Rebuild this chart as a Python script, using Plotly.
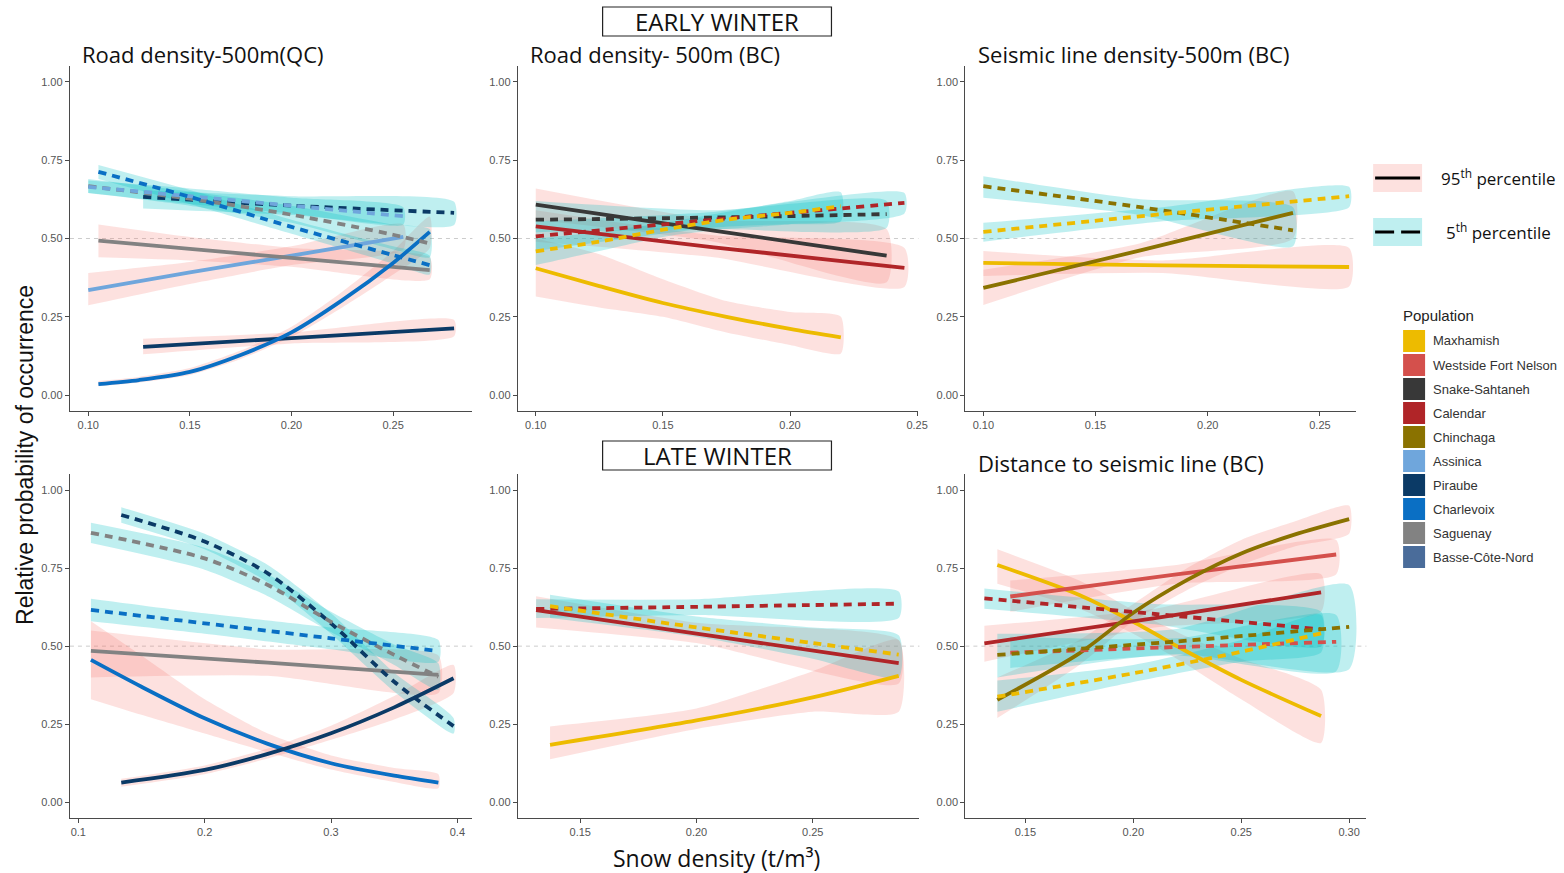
import plotly.graph_objects as go

# ---------------- data ----------------
POPULATIONS = ["Maxhamish", "Westside Fort Nelson", "Snake-Sahtaneh", "Calendar", "Chinchaga",
               "Assinica", "Piraube", "Charlevoix", "Saguenay", "Basse-Côte-Nord"]
POP_COLORS = ["#EDBB00", "#D4504C", "#383838", "#B02528", "#8A7200",
              "#6FA6DC", "#0B3A66", "#0A6FC4", "#828282", "#4A6C9A"]

PANEL_TITLES = ["Road density-500m(QC)", "Road density- 500m (BC)", "Seismic line density-500m (BC)",
                "", "", "Distance to seismic line (BC)"]
SEASON_LABELS = ["EARLY WINTER", "LATE WINTER"]
X_TITLE = "Snow density (t/m³)"
Y_TITLE = "Relative probability of occurrence"
PERCENTILE_LABELS = ["95<sup>th</sup> percentile", "5<sup>th</sup> percentile"]

Y_TICKS = [0.0, 0.25, 0.5, 0.75, 1.0]
Y_TICK_TEXT = ["0.00", "0.25", "0.50", "0.75", "1.00"]
X_TICKS = [
    [0.10, 0.15, 0.20, 0.25],
    [0.10, 0.15, 0.20, 0.25],
    [0.10, 0.15, 0.20, 0.25],
    [0.1, 0.2, 0.3, 0.4],
    [0.15, 0.20, 0.25],
    [0.15, 0.20, 0.25, 0.30],
]
X_TICK_TEXT = [
    ["0.10", "0.15", "0.20", "0.25"],
    ["0.10", "0.15", "0.20", "0.25"],
    ["0.10", "0.15", "0.20", "0.25"],
    ["0.1", "0.2", "0.3", "0.4"],
    ["0.15", "0.20", "0.25"],
    ["0.15", "0.20", "0.25", "0.30"],
]
REF_LINE = 0.5

# curves: (population, percentile, x, y, lower, upper)
P1_CURVES = [
    ("Assinica", 95, [0.10, 0.15, 0.20, 0.255], [0.335, 0.392, 0.445, 0.505],
     [0.287, 0.355, 0.415, 0.465], [0.390, 0.425, 0.475, 0.545]),
    ("Saguenay", 95, [0.105, 0.15, 0.20, 0.268], [0.493, 0.467, 0.438, 0.399],
     [0.44, 0.43, 0.41, 0.37], [0.545, 0.505, 0.47, 0.44]),
    ("Piraube", 95, [0.127, 0.20, 0.28], [0.154, 0.182, 0.213],
     [0.13, 0.165, 0.188], [0.18, 0.20, 0.24]),
    ("Charlevoix", 95, [0.105, 0.125, 0.15, 0.175, 0.20, 0.225, 0.25, 0.268],
     [0.035, 0.048, 0.074, 0.128, 0.20, 0.303, 0.422, 0.521],
     [0.028, 0.040, 0.064, 0.115, 0.185, 0.28, 0.385, 0.47],
     [0.045, 0.058, 0.086, 0.142, 0.218, 0.33, 0.46, 0.57]),
    ("Piraube", 5, [0.127, 0.20, 0.28], [0.633, 0.605, 0.582],
     [0.596, 0.575, 0.543], [0.654, 0.635, 0.617]),
    ("Saguenay", 5, [0.10, 0.15, 0.20, 0.25, 0.268], [0.667, 0.627, 0.576, 0.512, 0.484],
     [0.645, 0.605, 0.55, 0.465, 0.44], [0.69, 0.65, 0.605, 0.545, 0.53]),
    ("Assinica", 5, [0.10, 0.15, 0.20, 0.255], [0.665, 0.635, 0.605, 0.571],
     [0.645, 0.61, 0.58, 0.545], [0.685, 0.66, 0.63, 0.60]),
    ("Charlevoix", 5, [0.105, 0.15, 0.20, 0.25, 0.268], [0.713, 0.633, 0.537, 0.447, 0.415],
     [0.69, 0.61, 0.515, 0.42, 0.385], [0.735, 0.655, 0.56, 0.475, 0.445]),
]

P2_CURVES = [
    ("Maxhamish", 95, [0.10, 0.125, 0.15, 0.175, 0.20, 0.22], [0.405, 0.348, 0.294, 0.250, 0.211, 0.184],
     [0.315, 0.28, 0.25, 0.20, 0.16, 0.133], [0.50, 0.45, 0.37, 0.30, 0.265, 0.25]),
    ("Snake-Sahtaneh", 95, [0.10, 0.17, 0.238], [0.608, 0.525, 0.445],
     [0.56, 0.49, 0.36], [0.66, 0.56, 0.53]),
    ("Calendar", 95, [0.10, 0.17, 0.245], [0.539, 0.472, 0.406],
     [0.49, 0.44, 0.345], [0.59, 0.51, 0.47]),
    ("Snake-Sahtaneh", 5, [0.10, 0.17, 0.238], [0.560, 0.567, 0.578],
     [0.52, 0.53, 0.534], [0.62, 0.59, 0.62]),
    ("Calendar", 5, [0.10, 0.17, 0.245], [0.507, 0.56, 0.614],
     [0.46, 0.535, 0.58], [0.555, 0.585, 0.645]),
    ("Maxhamish", 5, [0.10, 0.125, 0.15, 0.175, 0.20, 0.22], [0.459, 0.49, 0.528, 0.56, 0.582, 0.603],
     [0.415, 0.46, 0.505, 0.53, 0.545, 0.555], [0.50, 0.52, 0.55, 0.585, 0.62, 0.648]),
]

P3_CURVES = [
    ("Maxhamish", 95, [0.10, 0.18, 0.263], [0.422, 0.414, 0.409],
     [0.38, 0.39, 0.347], [0.46, 0.43, 0.47]),
    ("Chinchaga", 95, [0.10, 0.17, 0.238], [0.342, 0.462, 0.582],
     [0.288, 0.44, 0.50], [0.40, 0.485, 0.651]),
    ("Chinchaga", 5, [0.10, 0.17, 0.238], [0.667, 0.60, 0.526],
     [0.63, 0.575, 0.475], [0.699, 0.625, 0.60]),
    ("Maxhamish", 5, [0.10, 0.18, 0.263], [0.521, 0.578, 0.635],
     [0.49, 0.555, 0.60], [0.55, 0.60, 0.665]),
]

P4_CURVES = [
    ("Saguenay", 95, [0.11, 0.25, 0.385], [0.485, 0.447, 0.408],
     [0.40, 0.405, 0.35], [0.55, 0.49, 0.47]),
    ("Charlevoix", 95, [0.11, 0.15, 0.20, 0.25, 0.30, 0.35, 0.385],
     [0.456, 0.37, 0.269, 0.187, 0.125, 0.085, 0.063],
     [0.33, 0.28, 0.22, 0.16, 0.105, 0.065, 0.045],
     [0.58, 0.47, 0.33, 0.22, 0.15, 0.11, 0.09]),
    ("Piraube", 95, [0.134, 0.20, 0.25, 0.30, 0.35, 0.397], [0.063, 0.1035, 0.155, 0.221, 0.304, 0.397],
     [0.05, 0.09, 0.14, 0.20, 0.265, 0.35], [0.075, 0.118, 0.172, 0.245, 0.34, 0.44]),
    ("Piraube", 5, [0.134, 0.20, 0.25, 0.30, 0.35, 0.397], [0.92, 0.835, 0.733, 0.573, 0.386, 0.244],
     [0.895, 0.81, 0.705, 0.54, 0.355, 0.22], [0.945, 0.86, 0.76, 0.605, 0.415, 0.27]),
    ("Saguenay", 5, [0.11, 0.20, 0.25, 0.30, 0.35, 0.385], [0.863, 0.781, 0.696, 0.578, 0.472, 0.402],
     [0.83, 0.745, 0.66, 0.545, 0.44, 0.36], [0.895, 0.815, 0.73, 0.61, 0.505, 0.445]),
    ("Charlevoix", 5, [0.11, 0.20, 0.30, 0.385], [0.616, 0.573, 0.525, 0.4845],
     [0.58, 0.54, 0.49, 0.45], [0.652, 0.605, 0.56, 0.52]),
]

P5_CURVES = [
    ("Maxhamish", 95, [0.137, 0.20, 0.25, 0.287], [0.184, 0.262, 0.336, 0.405],
     [0.138, 0.235, 0.29, 0.29], [0.243, 0.30, 0.42, 0.52]),
    ("Calendar", 95, [0.131, 0.20, 0.287], [0.615, 0.54, 0.446],
     [0.56, 0.51, 0.38], [0.66, 0.575, 0.52]),
    ("Calendar", 5, [0.131, 0.20, 0.287], [0.619, 0.626, 0.636],
     [0.59, 0.60, 0.59], [0.65, 0.65, 0.675]),
    ("Maxhamish", 5, [0.137, 0.20, 0.25, 0.287], [0.628, 0.56, 0.51, 0.473],
     [0.59, 0.53, 0.46, 0.40], [0.665, 0.595, 0.56, 0.535]),
]

P6_CURVES = [
    ("Maxhamish", 95, [0.137, 0.175, 0.20, 0.225, 0.25, 0.287], [0.76, 0.664, 0.578, 0.482, 0.392, 0.276],
     [0.70, 0.62, 0.54, 0.44, 0.33, 0.19], [0.81, 0.71, 0.615, 0.53, 0.46, 0.36]),
    ("Westside Fort Nelson", 95, [0.143, 0.22, 0.294], [0.659, 0.73, 0.7935],
     [0.61, 0.70, 0.73], [0.71, 0.76, 0.84]),
    ("Calendar", 95, [0.131, 0.21, 0.287], [0.509, 0.59, 0.672],
     [0.45, 0.56, 0.61], [0.565, 0.62, 0.73]),
    ("Chinchaga", 95, [0.137, 0.175, 0.20, 0.225, 0.25, 0.275, 0.30],
     [0.328, 0.477, 0.607, 0.712, 0.797, 0.858, 0.907],
     [0.27, 0.44, 0.58, 0.68, 0.76, 0.82, 0.86], [0.40, 0.52, 0.635, 0.75, 0.84, 0.90, 0.95]),
    ("Calendar", 5, [0.131, 0.21, 0.287], [0.653, 0.603, 0.554],
     [0.62, 0.57, 0.50], [0.685, 0.635, 0.61]),
    ("Westside Fort Nelson", 5, [0.143, 0.22, 0.294], [0.479, 0.497, 0.514],
     [0.43, 0.47, 0.42], [0.53, 0.525, 0.60]),
    ("Chinchaga", 5, [0.137, 0.22, 0.30], [0.472, 0.515, 0.562],
     [0.40, 0.475, 0.426], [0.54, 0.555, 0.696]),
    ("Maxhamish", 5, [0.137, 0.20, 0.25, 0.287], [0.338, 0.413, 0.482, 0.541],
     [0.29, 0.385, 0.45, 0.48], [0.39, 0.44, 0.52, 0.60]),
]

PANELS = [P1_CURVES, P2_CURVES, P3_CURVES, P4_CURVES, P5_CURVES, P6_CURVES]

# ---------------- layout geometry (style) ----------------
W, H = 1564, 873
WX = 1556  # effective horizontal extent observed in the rendered page
X_RANGES = [[0.091, 0.289], [0.093, 0.2505], [0.092, 0.266],
            [0.0934, 0.4119], [0.1232, 0.2959], [0.1222, 0.308]]
Y_RANGE = [-0.05, 1.05]
X_DOMAINS_PX = [(70, 472.7), (518.3, 919), (966, 1356.7),
                (70, 472.7), (518.3, 920), (966, 1367.3)]
Y_DOMAINS_PX = [(66.3, 410.7)] * 3 + [(474.4, 817.9)] * 3

RIBBON = {95: "rgba(248,118,109,0.22)", 5: "rgba(0,191,196,0.25)"}
DASH = {95: "solid", 5: "8px,6px"}
color_of = dict(zip(POPULATIONS, POP_COLORS))


def px(x):
    return x / WX


def py(y):
    return 1 - y / H


fig = go.Figure()

for i, curves in enumerate(PANELS):
    ax = "" if i == 0 else str(i + 1)
    xa, ya = "x" + ax, "y" + ax
    # ribbons first
    for pop, pct, xs, ys, lo, hi in curves:
        fig.add_trace(go.Scatter(
            x=list(xs) + list(xs)[::-1], y=list(hi) + list(lo)[::-1],
            fill="toself", fillcolor=RIBBON[pct], line=dict(width=0, shape="spline", smoothing=0.6),
            mode="lines", hoverinfo="skip", showlegend=False, xaxis=xa, yaxis=ya))
    for pop, pct, xs, ys, lo, hi in curves:
        fig.add_trace(go.Scatter(
            x=xs, y=ys, mode="lines",
            line=dict(color=color_of[pop], width=3.8, dash=DASH[pct], shape="spline", smoothing=0.8),
            name=pop, showlegend=False, xaxis=xa, yaxis=ya))

layout = dict(
    width=W, height=H, autosize=False, margin=dict(l=0, r=0, t=0, b=0),
    paper_bgcolor="white", plot_bgcolor="white", showlegend=False,
    shapes=[], annotations=[],
)
for i in range(6):
    ax = "" if i == 0 else str(i + 1)
    x0, x1 = X_DOMAINS_PX[i]
    ytop, ybot = Y_DOMAINS_PX[i]
    layout["xaxis" + ax] = dict(
        domain=[px(x0), px(x1)], range=X_RANGES[i], anchor="y" + ax,
        tickvals=X_TICKS[i], ticktext=X_TICK_TEXT[i],
        showline=True, linecolor="#4a4a4a", linewidth=1.3, ticks="outside", ticklen=4,
        tickcolor="#4a4a4a", showgrid=False, zeroline=False,
        tickfont=dict(family="Liberation Sans", size=11, color="#555555"))
    layout["yaxis" + ax] = dict(
        domain=[py(ybot), py(ytop)], range=Y_RANGE, anchor="x" + ax,
        tickvals=Y_TICKS, ticktext=Y_TICK_TEXT,
        showline=True, linecolor="#4a4a4a", linewidth=1.3, ticks="outside", ticklen=4,
        tickcolor="#4a4a4a", showgrid=False, zeroline=False,
        tickfont=dict(family="Liberation Sans", size=11, color="#555555"))
    layout["shapes"].append(dict(
        type="line", xref="x" + ax + " domain", x0=0, x1=1, yref="y" + ax, y0=REF_LINE, y1=REF_LINE,
        line=dict(color="#cccccc", width=1, dash="4px,4px"), layer="below"))

TITLE_FONT = dict(family="Open Sans", size=22, color="#111111")
SEASON_FONT = dict(family="Open Sans", size=24, color="#111111")
X_TITLE_FONT = dict(family="Open Sans", size=23, color="#111111")
Y_TITLE_FONT = dict(family="Liberation Sans", size=23, color="#111111")
title_pos = [(80, 54), (528, 54), (977, 54), None, None, (977, 463)]
for t, pos in zip(PANEL_TITLES, title_pos):
    if t and pos:
        layout["annotations"].append(dict(
            text=t, x=px(pos[0]), y=py(pos[1]), xref="paper", yref="paper",
            xanchor="left", yanchor="middle", showarrow=False, font=TITLE_FONT))

# season boxes
for lab, (bx0, by0, bx1, by1) in zip(SEASON_LABELS, [(603, 7, 832, 36), (603, 441, 832, 470)]):
    layout["shapes"].append(dict(type="rect", xref="paper", yref="paper",
                                 x0=px(bx0), x1=px(bx1), y0=py(by1), y1=py(by0),
                                 line=dict(color="#222222", width=1.2), fillcolor="white"))
    layout["annotations"].append(dict(
        text=lab, x=px((bx0 + bx1) / 2), y=py((by0 + by1) / 2), xref="paper", yref="paper",
        xanchor="center", yanchor="middle", showarrow=False, font=SEASON_FONT))

# axis titles
layout["annotations"].append(dict(
    text=X_TITLE, x=px(717), y=py(858), xref="paper", yref="paper", showarrow=False,
    xanchor="center", yanchor="middle", font=X_TITLE_FONT))
layout["annotations"].append(dict(
    text=Y_TITLE, x=px(25), y=py(455), xref="paper", yref="paper", showarrow=False,
    textangle=-90, xanchor="center", yanchor="middle", font=Y_TITLE_FONT))

# percentile legend
for k, (pct, lab) in enumerate(zip([95, 5], PERCENTILE_LABELS)):
    ry0, ry1 = [(164, 192), (218, 246)][k]
    layout["shapes"].append(dict(type="rect", xref="paper", yref="paper",
                                 x0=px(1374), x1=px(1423), y0=py(ry1), y1=py(ry0),
                                 line=dict(width=0), fillcolor=RIBBON[pct]))
    yc = py((ry0 + ry1) / 2)
    layout["shapes"].append(dict(type="line", xref="paper", yref="paper",
                                 x0=px(1376), x1=px(1421), y0=yc, y1=yc,
                                 line=dict(color="black", width=3,
                                           dash="solid" if pct == 95 else "19px,7px")))
    layout["annotations"].append(dict(
        text=lab, x=px([1440, 1445][k]), y=yc, xref="paper", yref="paper", showarrow=False,
        xanchor="left", yanchor="middle", font=dict(family="Open Sans", size=17, color="#111111")))

# population legend
layout["annotations"].append(dict(
    text="Population", x=px(1402), y=py(315), xref="paper", yref="paper", showarrow=False,
    xanchor="left", yanchor="middle", font=dict(family="Liberation Sans", size=15, color="#222222")))
for j, (pop, col) in enumerate(zip(POPULATIONS, POP_COLORS)):
    top = 330 + 24 * j
    layout["shapes"].append(dict(type="rect", xref="paper", yref="paper",
                                 x0=px(1404), x1=px(1426), y0=py(top + 22), y1=py(top),
                                 line=dict(width=0), fillcolor=col))
    layout["annotations"].append(dict(
        text=pop, x=px(1432), y=py(top + 11), xref="paper", yref="paper", showarrow=False,
        xanchor="left", yanchor="middle", font=dict(family="Liberation Sans", size=13, color="#333333")))

fig.update_layout(**layout)
fig.write_html("out.html", config={"displayModeBar": False, "responsive": False},
               post_script="document.body.style.margin='0';document.body.style.overflow='hidden';"
                           "document.documentElement.style.overflow='hidden';")
